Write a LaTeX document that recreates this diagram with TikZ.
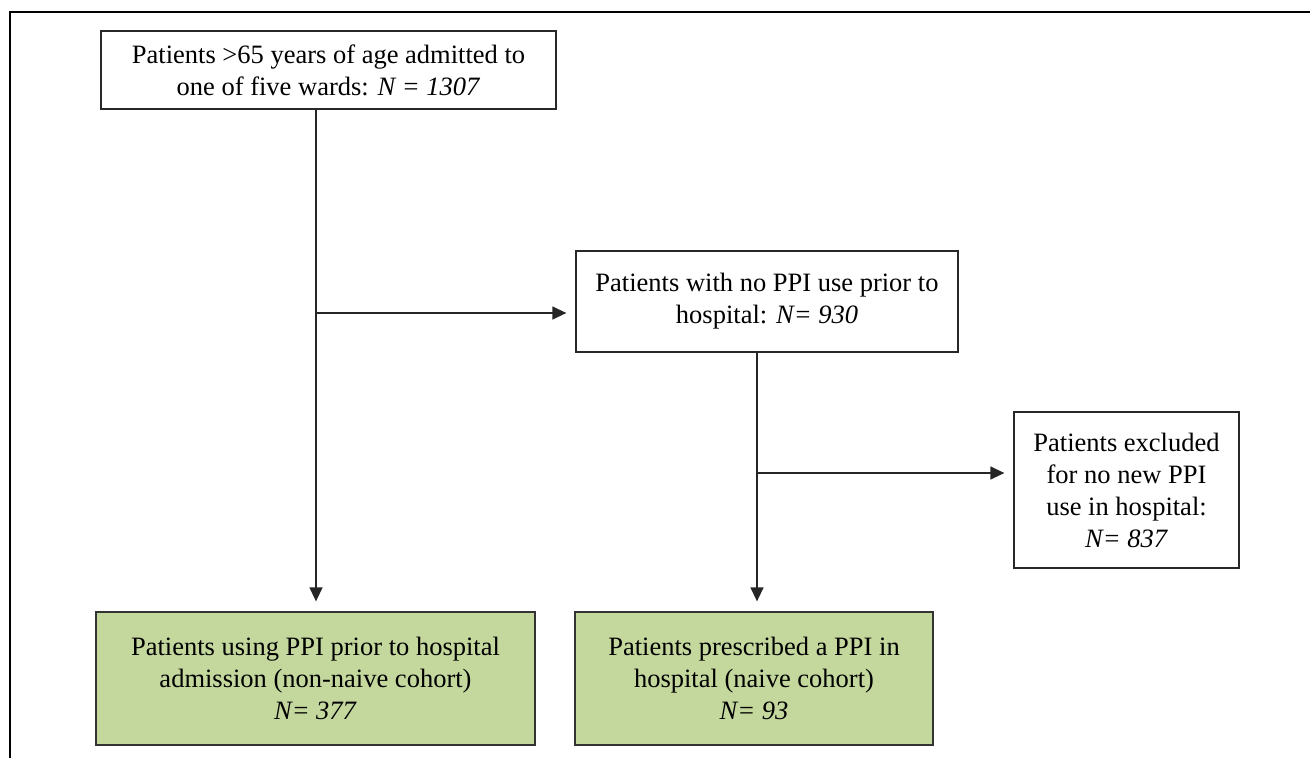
\documentclass[tikz,border=0pt]{standalone}
\usepackage{fontspec}
\setmainfont{Liberation Serif}
\usetikzlibrary{arrows.meta}
\definecolor{boxgreen}{RGB}{196,216,158}
\definecolor{lineg}{RGB}{40,40,40}
\begin{document}
\begin{tikzpicture}[x=1pt,y=-1pt,
  box/.style={draw=lineg,line width=1.3pt,align=center,inner sep=0pt,
    font=\fontsize{26.5}{32}\selectfont,text=black},
  gbox/.style={box,fill=boxgreen,draw=black!80},
  conn/.style={draw=black!85,line width=1.4pt,-{Triangle[length=14pt,width=13pt]}},
  plain/.style={draw=black!85,line width=1.4pt}]
\useasboundingbox (0,0) rectangle (1310,758);
\coordinate (fTL) at (10,12);
\coordinate (fTR) at (1310,12);
\coordinate (fBL) at (10,758);
\draw[line width=1.6pt] (fBL) -- (fTL) -- (fTR);

\node[box,minimum width=455pt,minimum height=78pt] (top) at (328.5,70)
  {Patients >65 years of age admitted to\\one of five wards: \textit{N = 1307}};
\node[box,minimum width=382pt,minimum height=101pt] (mid) at (767,301.5)
  {Patients with no PPI use prior to\\hospital: \textit{N= 930}};
\node[box,minimum width=225pt,minimum height=156pt] (exc) at (1126.5,490)
  {Patients excluded\\for no new PPI\\use in hospital:\\\textit{N= 837}};
\node[gbox,minimum width=439pt,minimum height=133pt] (lg) at (315.5,678.5)
  {Patients using PPI prior to hospital\\admission (non-naive cohort)\\\textit{N= 377}};
\node[gbox,minimum width=358pt,minimum height=133pt] (rg) at (754,678.5)
  {Patients prescribed a PPI in\\hospital (naive cohort)\\\textit{N= 93}};

\coordinate (j1) at (316,313);
\coordinate (j2) at (757,473);
\draw[conn] (top.south -| j1) -- ([yshift=10pt]lg.north -| j1);
\draw[conn] (j1) -- ([xshift=-9pt]j1 -| mid.west);
\draw[conn] (mid.south -| j2) -- ([yshift=10pt]rg.north -| j2);
\draw[conn] (j2) -- ([xshift=-9pt]j2 -| exc.west);
\end{tikzpicture}
\end{document}
